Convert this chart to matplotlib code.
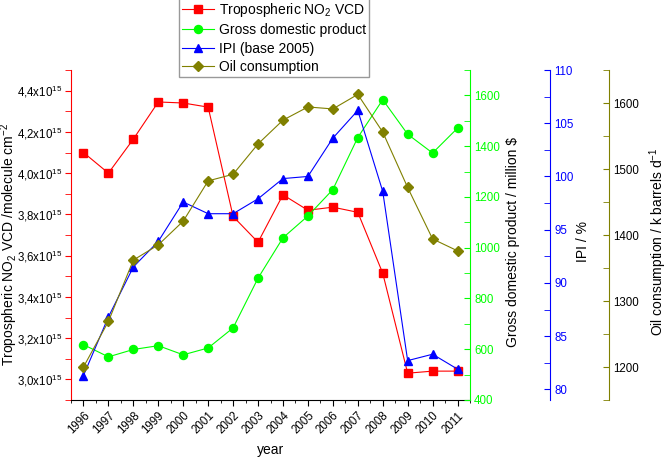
import matplotlib
matplotlib.use("Agg")
import matplotlib.pyplot as plt
from matplotlib.ticker import MultipleLocator, FuncFormatter

plt.rcParams['font.family'] = ['Liberation Sans', 'DejaVu Sans']
plt.rcParams['mathtext.fontset'] = 'custom'
plt.rcParams['mathtext.rm'] = 'Liberation Sans'
plt.rcParams['mathtext.it'] = 'Liberation Sans:italic'
plt.rcParams['mathtext.bf'] = 'Liberation Sans:bold'

# Данные
years = list(range(1996, 2012))
no2_vcd = [4.10e15, 4.00e15, 4.165e15, 4.345e15, 4.34e15, 4.32e15, 3.79e15, 3.665e15,
           3.895e15, 3.82e15, 3.835e15, 3.81e15, 3.515e15, 3.03e15, 3.04e15, 3.04e15]
gdp = [618, 570, 599, 614, 578, 605, 684, 880, 1039, 1125, 1229, 1434, 1583, 1447, 1373, 1471]
ipi = [81.3, 86.8, 91.5, 93.9, 97.6, 96.5, 96.5, 97.9, 99.8, 100.0, 103.6, 106.2, 98.6, 82.7, 83.3, 81.9]
oil = [1200, 1269, 1362, 1385, 1421, 1482, 1492, 1538, 1574, 1594, 1591, 1613, 1556, 1472, 1394, 1376]

RED = '#ff0000'
GREEN = '#00ff00'
BLUE = '#0000ff'
OLIVE = '#808000'

fig = plt.figure(figsize=(6.66, 4.59), dpi=100)
ax = fig.add_axes([71 / 666, 1 - 400 / 459, 399 / 666, 330 / 459])
ax_gdp = ax.twinx()
ax_ipi = ax.twinx()
ax_oil = ax.twinx()

lw = 0.8
l1, = ax.plot(years, no2_vcd, color=RED, lw=lw, marker='s', ms=5.4,
              label='Tropospheric NO$_2$ VCD')
l2, = ax_gdp.plot(years, gdp, color=GREEN, lw=lw, marker='o', ms=5.8,
                  label='Gross domestic product')
l3, = ax_ipi.plot(years, ipi, color=BLUE, lw=lw, marker='^', ms=6.2,
                  label='IPI (base 2005)')
l4, = ax_oil.plot(years, oil, color=OLIVE, lw=lw, marker='D', ms=5.2,
                  label='Oil consumption')

# Основная ось
ax.set_xlim(1995.5, 2011.5)
ax.set_ylim(2.9e15, 4.5e15)
ax.xaxis.set_major_locator(MultipleLocator(1))
ax.xaxis.set_minor_locator(MultipleLocator(0.5))
ax.yaxis.set_major_locator(MultipleLocator(0.2e15))
ax.yaxis.set_minor_locator(MultipleLocator(0.1e15))
ax.yaxis.set_major_formatter(FuncFormatter(
    lambda v, p: f"{v / 1e15:.1f}".replace('.', ',') + r"x10$^{\mathregular{15}}$"))
ax.set_xticks(years)
ax.set_xticklabels([str(y) for y in years], rotation=45, ha='right',
                   rotation_mode='anchor')
ax.tick_params(axis='x', which='major', direction='out', length=4, labelsize=8.3, pad=3)
ax.tick_params(axis='x', which='minor', direction='out', length=2.5)
ax.tick_params(axis='y', which='major', direction='out', length=4, color=RED,
               labelsize=8.3, pad=2)
ax.tick_params(axis='y', which='minor', direction='out', length=4, color=RED)
ax.spines['left'].set_color(RED)
ax.spines['top'].set_visible(False)
ax.spines['right'].set_visible(False)
ax.set_xlabel('year', fontsize=10)
ax.xaxis.set_label_coords(0.5, -50 / 330)
ax.xaxis.label.set_verticalalignment('center')
ax.set_ylabel('Tropospheric NO$_2$ VCD /molecule cm$^{-2}$', fontsize=10)
ax.yaxis.label.set_verticalalignment('center')
ax.yaxis.set_label_coords(-62 / 399, 0.47)

# Правые оси
specs = [
    (ax_gdp, GREEN, (400, 1700), 200, 100, GREEN, 1.0, 442 / 399,
     'Gross domestic product / million $'),
    (ax_ipi, BLUE, (79, 110), 5, 2.5, BLUE, 479 / 399, 512 / 399, 'IPI / %'),
    (ax_oil, OLIVE, (1150, 1650), 100, 50, 'black', 538 / 399, 587 / 399,
     'Oil consumption / k barrels d$^{-1}$'),
]
for a, col, lim, major, minor, lab_col, pos, lab_x, label in specs:
    a.set_ylim(*lim)
    a.yaxis.set_major_locator(MultipleLocator(major))
    a.yaxis.set_minor_locator(MultipleLocator(minor))
    for side in ['top', 'left', 'bottom']:
        a.spines[side].set_visible(False)
    a.spines['right'].set_position(('axes', pos))
    a.spines['right'].set_color(col)
    a.tick_params(axis='y', which='major', direction='in', length=4, color=col,
                  labelcolor=lab_col, labelsize=8.3, pad=3)
    a.tick_params(axis='y', which='minor', direction='in', length=4, color=col)
    a.set_ylabel(label, fontsize=10)
    a.yaxis.label.set_verticalalignment('center')
    a.yaxis.set_label_coords(lab_x, 0.48)

fig.legend(handles=[l1, l2, l3, l4], loc='upper left',
           bbox_to_anchor=(179 / 666, 1.005), fontsize=10, frameon=True,
           fancybox=False, edgecolor='#999999', framealpha=1,
           handlelength=2.3, handletextpad=0.3, borderpad=0.25,
           labelspacing=0.3, borderaxespad=0)

fig.savefig('out.png', dpi=100)
